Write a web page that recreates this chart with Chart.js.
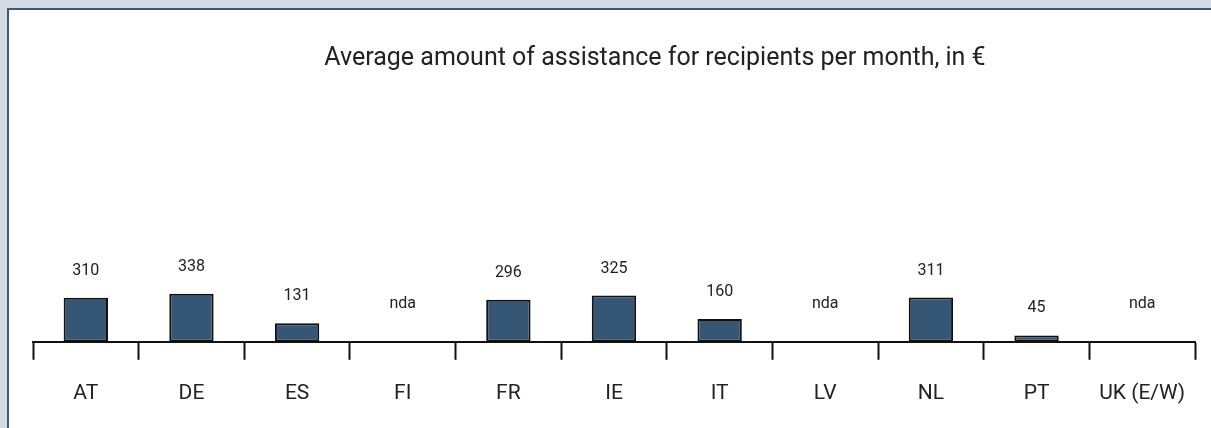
<!DOCTYPE html>
<html>
<head>
<meta charset="utf-8">
<script src="https://cdn.jsdelivr.net/npm/chart.js@4"></script>
<style>
  html, body { margin: 0; padding: 0; background: #d4dbe3; overflow: hidden; }
  #frame {
    position: absolute; left: 7px; top: 8px;
    width: 1202px; height: 418px;
    border-left: 2px solid #3a5a7b; border-top: 2px solid #3a5a7b;
    background: #ffffff;
  }
</style>
</head>
<body>
<div id="frame"><canvas id="myChart" width="1202" height="418"></canvas></div>
<script>
const countries = ['AT', 'DE', 'ES', 'FI', 'FR', 'IE', 'IT', 'LV', 'NL', 'PT', 'UK (E/W)'];
const amounts = [310, 338, 131, null, 296, 325, 160, null, 311, 45, null];
const missingLabel = 'nda';
const chartTitle = 'Average amount of assistance for recipients per month, in €';

const fontFamily = 'Roboto, "Liberation Sans Narrow", sans-serif';

// title sits a little right of centre in the original, so draw it here
const titleText = {
    id: 'titleText',
    afterDraw(chart) {
        const ctx = chart.ctx;
        const area = chart.chartArea;
        ctx.save();
        ctx.fillStyle = '#222';
        ctx.font = '25px ' + fontFamily;
        ctx.textAlign = 'center';
        ctx.textBaseline = 'middle';
        ctx.fillText(chartTitle, (area.left + area.right) / 2 + 41, 49);
        ctx.restore();
    }
};

// value labels above the bars, "nda" where there is no figure
const valueLabels = {
    id: 'valueLabels',
    afterDatasetsDraw(chart) {
        const ctx = chart.ctx;
        const meta = chart.getDatasetMeta(0);
        const base = chart.scales.y.getPixelForValue(0);
        ctx.save();
        ctx.fillStyle = '#222';
        ctx.font = '16px ' + fontFamily;
        ctx.textAlign = 'center';
        ctx.textBaseline = 'middle';
        meta.data.forEach((bar, i) => {
            const v = amounts[i];
            if (v === null) {
                ctx.fillText(missingLabel, bar.x, base - 38);
            } else {
                ctx.fillText(String(v), bar.x, bar.y - 27);
            }
        });
        ctx.restore();
    }
};

const data = {
    labels: countries,
    datasets: [{
        data: amounts,
        backgroundColor: '#365676',
        borderColor: '#111',
        borderWidth: 2,
        borderSkipped: false,
        categoryPercentage: 1,
        barPercentage: 0.42
    }]
};

const config = {
    type: 'bar',
    data: data,
    options: {
        responsive: false,
        animation: false,
        layout: { padding: { top: 90, left: 24, right: 16, bottom: 1 } },
        plugins: {
            legend: { display: false },
            tooltip: { enabled: false },
            title: { display: false }
        },
        scales: {
            x: {
                grid: {
                    offset: true,
                    drawOnChartArea: false,
                    tickLength: 18,
                    tickColor: '#111',
                    tickWidth: 2
                },
                border: { display: true, color: '#111', width: 2 },
                ticks: {
                    color: '#222',
                    padding: 21,
                    font: { family: fontFamily, size: 21 }
                }
            },
            y: {
                display: false,
                min: 0,
                max: 1700
            }
        }
    },
    plugins: [valueLabels, titleText]
};

const myChart = new Chart(document.getElementById('myChart'), config);
</script>
</body>
</html>
